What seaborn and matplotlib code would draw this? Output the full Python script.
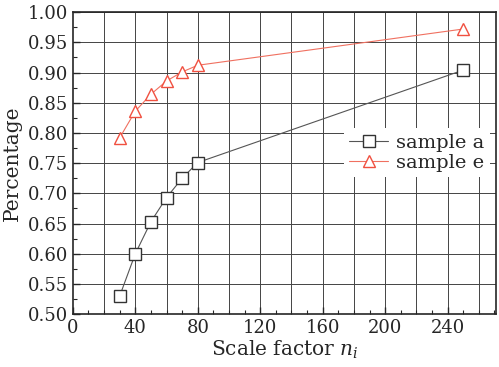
import numpy as np
import pandas as pd
import matplotlib
matplotlib.use('Agg')
import matplotlib.pyplot as plt
import seaborn as sns
from matplotlib.ticker import MultipleLocator
from matplotlib.lines import Line2D

# Data
scale_factor = [30, 40, 50, 60, 70, 80, 250]
sample_a = [0.530, 0.600, 0.653, 0.693, 0.725, 0.751, 0.904]
sample_e = [0.792, 0.836, 0.864, 0.886, 0.901, 0.912, 0.972]

df = pd.DataFrame({
    'n': scale_factor * 2,
    'pct': sample_a + sample_e,
    'sample': ['sample a'] * len(sample_a) + ['sample e'] * len(sample_e),
})

line_col = {'sample a': '#555555', 'sample e': '#f07060'}
edge_col = {'sample a': '#333333', 'sample e': '#f05040'}
mk = {'sample a': 's', 'sample e': '^'}

sns.set_style('ticks')
plt.rcParams['font.family'] = ['DejaVu Serif']
plt.rcParams['mathtext.fontset'] = 'dejavuserif'

fig = plt.figure(figsize=(4.99, 3.67), dpi=100)
ax = fig.add_axes([0.146, 0.144, 0.848, 0.823])

sns.lineplot(data=df, x='n', y='pct', hue='sample', style='sample',
             palette=line_col, markers=mk, dashes=False,
             markersize=8, markerfacecolor='white', markeredgewidth=1.0,
             linewidth=0.8, legend=False, ax=ax)

for line, name in zip(ax.lines[:2], ['sample a', 'sample e']):
    line.set_markeredgecolor(edge_col[name])

ax.set_xlim(0, 271)
ax.set_ylim(0.50, 1.00)
ax.xaxis.set_major_locator(MultipleLocator(40))
ax.xaxis.set_minor_locator(MultipleLocator(10))
ax.yaxis.set_minor_locator(MultipleLocator(0.025))
ax.set_yticks(np.arange(0.50, 1.001, 0.05))
ax.set_yticklabels([f'{v:.2f}' for v in np.arange(0.50, 1.001, 0.05)])

# grid every 20 in x and every 0.05 in y
for xv in np.arange(20, 271, 20):
    ax.axvline(xv, color='#444444', lw=0.7, zorder=0)
ax.grid(axis='y', which='major', color='#444444', lw=0.7)
ax.set_axisbelow(True)

ax.tick_params(which='both', direction='in', labelsize=13)
ax.tick_params(which='major', length=5, width=1)
ax.tick_params(which='minor', length=3, width=0.8)
for s in ax.spines.values():
    s.set_linewidth(1.2)

ax.set_xlabel('Scale factor $n_i$', fontsize=14.5, labelpad=1)
ax.set_ylabel('Percentage', fontsize=14.5, labelpad=4)

handles = [Line2D([], [], color=line_col[n], marker=mk[n], markersize=8,
                  markerfacecolor='white', markeredgecolor=edge_col[n],
                  lw=0.8, label=n) for n in ['sample a', 'sample e']]
leg = ax.legend(handles=handles, loc='center right', bbox_to_anchor=(1.0, 0.535),
                frameon=True, fontsize=14, handlelength=2.0, handletextpad=0.4,
                labelspacing=0.1, borderpad=0.3, borderaxespad=0.3)
leg.get_frame().set_edgecolor('none')
leg.get_frame().set_facecolor('white')
leg.get_frame().set_alpha(1)

fig.savefig('out.png', dpi=100)
